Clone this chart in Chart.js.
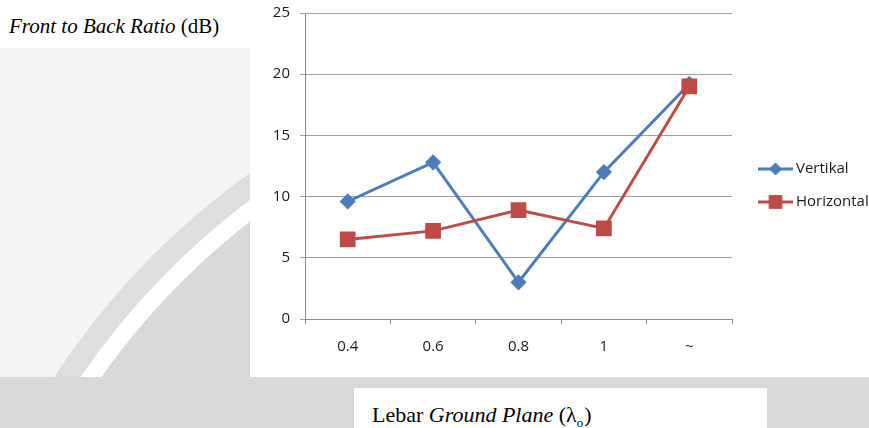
<!DOCTYPE html>
<html>
<head>
<meta charset="utf-8">
<script src="https://cdn.jsdelivr.net/npm/chart.js@4/dist/chart.umd.min.js"></script>
<style>
  html, body { margin: 0; padding: 0; }
  body { width: 869px; height: 428px; position: relative; overflow: hidden; background: #fff; }
  #bg { position: absolute; left: 0; top: 0; }
  #plot { position: absolute; left: 250px; top: 0; width: 619px; height: 377px; background: #fff; }
  #ytitle { position: absolute; left: 9px; top: 16px; font: 21px "Liberation Serif", "Times New Roman", serif; line-height: 21px; color: #000; white-space: nowrap; }
  #xbox { position: absolute; left: 354px; top: 388px; width: 413px; height: 40px; background: #fff; }
  #xtitle { position: absolute; left: 18px; top: 16px; font: 22px "Liberation Serif", "Times New Roman", serif; line-height: 22px; color: #000; white-space: nowrap; }
  #xtitle sub { font-size: 13px; vertical-align: -5px; line-height: 0; margin-right: 1px; }
</style>
</head>
<body>
<svg id="bg" width="869" height="428">
  <rect x="0" y="0" width="869" height="428" fill="#f4f4f4"/>
  <rect x="0" y="0" width="869" height="48" fill="#ffffff"/>
  <circle cx="700" cy="800" r="772" fill="#dedede"/>
  <circle cx="700" cy="800" r="750" fill="#ffffff"/>
  <circle cx="700" cy="800" r="733" fill="#d9d9d9"/>
  <rect x="0" y="377" width="869" height="51" fill="#d9d9d9"/>
</svg>
<div id="ytitle"><i>Front to Back Ratio</i> (dB)</div>
<div id="plot"><canvas id="c" width="619" height="377"></canvas></div>
<div id="xbox"><div id="xtitle">Lebar <i>Ground Plane</i> (λ<sub>o</sub>)</div></div>
<script>
// Ground plane width categories and front-to-back ratio (dB)
const categories = ['0.4', '0.6', '0.8', '1', '~'];
const vertikal = [9.6, 12.8, 3.0, 12.0, 19.2];
const horizontal = [6.5, 7.2, 8.9, 7.4, 19.0];
const yTicks = [0, 5, 10, 15, 20, 25];

const BLUE = '#4a7ebb';
const RED = '#be4b48';
const TICK_FONT = { family: '"Open Sans", "Liberation Sans", sans-serif', size: 15 };

// Legend drawn at the right: line segment with the series marker in the middle
const sideLegend = {
  id: 'sideLegend',
  afterDraw(chart) {
    const ctx = chart.ctx;
    const rows = [169, 202];
    chart.data.datasets.forEach((ds, i) => {
      const y = rows[i];
      const x0 = 508, x1 = 543;
      ctx.save();
      ctx.strokeStyle = ds.borderColor;
      ctx.lineWidth = ds.borderWidth;
      ctx.beginPath();
      ctx.moveTo(x0, y);
      ctx.lineTo(x1, y);
      ctx.stroke();
      ctx.fillStyle = ds.pointBackgroundColor;
      ctx.lineWidth = 1;
      Chart.helpers.drawPoint(ctx, { pointStyle: ds.pointStyle, radius: ds.pointRadius, borderWidth: 1 }, (x0 + x1) / 2, y);
      ctx.fillStyle = '#1a1a1a';
      ctx.font = '15px "Open Sans", "Liberation Sans", sans-serif';
      ctx.textBaseline = 'middle';
      ctx.textAlign = 'left';
      ctx.fillText(ds.label, x1 + 3, y);
      ctx.restore();
    });
  }
};

new Chart(document.getElementById('c'), {
  type: 'line',
  data: {
    labels: categories,
    datasets: [
      {
        label: 'Vertikal',
        data: vertikal,
        borderColor: BLUE,
        backgroundColor: BLUE,
        pointBackgroundColor: BLUE,
        pointBorderColor: BLUE,
        borderWidth: 3,
        pointStyle: 'rectRot',
        pointRadius: 6,
        tension: 0,
        order: 1
      },
      {
        label: 'Horizontal',
        data: horizontal,
        borderColor: RED,
        backgroundColor: RED,
        pointBackgroundColor: RED,
        pointBorderColor: RED,
        borderWidth: 3,
        pointStyle: 'rect',
        pointRadius: 9,
        tension: 0,
        order: 0
      }
    ]
  },
  options: {
    responsive: false,
    animation: false,
    layout: { padding: { top: 13, right: 137, left: 0, bottom: 0 } },
    plugins: { legend: { display: false }, tooltip: { enabled: false } },
    scales: {
      x: {
        type: 'category',
        offset: true,
        afterFit(scale) { scale.height = 58; scale.paddingLeft = 0; scale.paddingRight = 0; },
        grid: { display: true, offset: true, drawOnChartArea: false, drawTicks: true, tickLength: 5, color: '#8c8c8c' },
        border: { color: '#8c8c8c', width: 1 },
        ticks: { color: '#1a1a1a', font: TICK_FONT, padding: 14, maxRotation: 0 }
      },
      y: {
        min: 0,
        max: 25,
        afterFit(scale) { scale.width = 55; scale.paddingTop = 0; scale.paddingBottom = 0; },
        afterBuildTicks(scale) { scale.ticks = yTicks.map(v => ({ value: v })); },
        grid: { color: '#a0a0a0', tickLength: 5, drawTicks: true },
        border: { color: '#8c8c8c', width: 1 },
        ticks: { color: '#1a1a1a', font: TICK_FONT, padding: 10 }
      }
    }
  },
  plugins: [sideLegend]
});
</script>
</body>
</html>
